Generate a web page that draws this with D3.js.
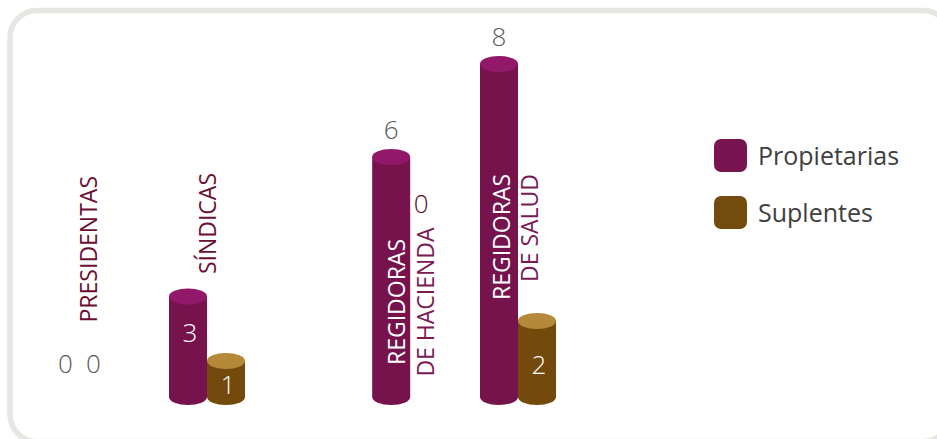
<!DOCTYPE html>
<html>
<head>
<meta charset="utf-8">
<script src="https://cdn.jsdelivr.net/npm/d3@7/dist/d3.min.js"></script>
<style>
  html, body { margin: 0; padding: 0; background: #ffffff; }
  svg { display: block; }
  text { font-family: "Open Sans", "Noto Sans", sans-serif; }
</style>
</head>
<body>
<svg id="chart" width="937" height="439"></svg>
<script>
// ---------------- DATA ----------------
const categories = ["PRESIDENTAS", "SÍNDICAS", "REGIDORAS DE HACIENDA", "REGIDORAS DE SALUD"];
const categoryLines = [["PRESIDENTAS"], ["SÍNDICAS"], ["REGIDORAS", "DE HACIENDA"], ["REGIDORAS", "DE SALUD"]];
const seriesNames = ["Propietarias", "Suplentes"];
const propietarias = [0, 3, 6, 8];
const suplentes = [0, 1, 0, 2];
const primaryAxisTicks = [0, 8];     // Propietarias axis
const secondaryAxisTicks = [0, 2];   // Suplentes axis

// ---------------- LAYOUT / STYLE ----------------
const colors = {
  Propietarias: { body: "#76134c", top: "#92196a", legend: "#78144f" },
  Suplentes:    { body: "#734a0b", top: "#b5883a", legend: "#734b0c" }
};
const slots = [0, 1, 2.96, 4];          // horizontal slot of each category (gap before Hacienda)
const labelMode = {                      // where each value label sits
  Propietarias: ["base", "inside", "above", "above"],
  Suplentes:    ["base", "inside", "float", "inside"]
};
const insideOffset = { Propietarias: -14, Suplentes: 6 };
// category label placement: dx of each line from group centre, anchor and y
const catLabelLayout = [
  { dx: [-15], anchor: "end", y: 176, fill: ["#6a0f33"] },
  { dx: [1], anchor: "end", y: 173, fill: ["#6a0f33"] },
  { dx: [-13, 16], anchor: "middle", y: 302, fill: ["#ffffff", "#7a1a55"] },
  { dx: [-16, 12], anchor: "end", y: 174, fill: ["#ffffff", "#7a1a55"] }
];

const svg = d3.select("#chart");

// frame
svg.append("rect")
  .attr("x", 10).attr("y", 10.5)
  .attr("width", 940).attr("height", 431)
  .attr("rx", 27).attr("ry", 27)
  .attr("fill", "#ffffff")
  .attr("stroke", "#e6e6e2")
  .attr("stroke-width", 5.5);

// scales
const baseY = 397;                       // centre of the cylinders' bottom ellipses
const x = d3.scaleLinear().domain([1, 4]).range([207, 518]);
const inner = d3.scaleBand().domain(seriesNames).range([-38, 38]).padding(0);
const yScale = {
  Propietarias: d3.scaleLinear().domain(d3.extent(primaryAxisTicks)).range([436, 64]),
  Suplentes:    d3.scaleLinear().domain(d3.extent(secondaryAxisTicks)).range([401, 321])
};
const rx = inner.bandwidth() / 2, ry = 8;

const rows = [];
categories.forEach((c, i) => {
  rows.push({ cat: c, i, series: "Propietarias", value: propietarias[i] });
  rows.push({ cat: c, i, series: "Suplentes", value: suplentes[i] });
});
const topY = d => yScale[d.series](d.value);

const g = svg.append("g");

// cylinders
const bars = rows.filter(d => d.value > 0);
const cyl = g.selectAll("g.cyl").data(bars).enter().append("g").attr("class", "cyl");
cyl.append("path")
  .attr("d", d => {
    const x0 = x(slots[d.i]) + inner(d.series);
    const x1 = x0 + inner.bandwidth();
    const yt = topY(d);
    return `M${x0},${yt} L${x0},${baseY} A${rx},${ry} 0 0 0 ${x1},${baseY} L${x1},${yt} Z`;
  })
  .attr("fill", d => colors[d.series].body);
cyl.append("ellipse")
  .attr("cx", d => x(slots[d.i]) + inner(d.series) + rx)
  .attr("cy", d => topY(d))
  .attr("rx", rx).attr("ry", ry)
  .attr("fill", d => colors[d.series].top);

// value labels
function labelPos(d) {
  const mode = labelMode[d.series][d.i];
  const cx = x(slots[d.i]) + inner(d.series) + rx;
  if (mode === "inside") {
    const mid = (topY(d) + baseY) / 2 + insideOffset[d.series];
    return { x: cx + 2, y: mid, dy: "0.36em", fill: "#ffffff" };
  }
  if (mode === "above") return { x: cx, y: topY(d) - 18, dy: "0", fill: "#595959" };
  if (mode === "float") return { x: cx - 8, y: 213, dy: "0", fill: "#5e0a2e" };
  // base (zero with no bar)
  const off = d.series === "Propietarias" ? -19 : -29;
  return { x: cx + off, y: baseY - 24, dy: "0", fill: "#595959" };
}
g.selectAll("text.val").data(rows).enter().append("text")
  .attr("class", "val")
  .each(function (d) {
    const p = labelPos(d);
    d3.select(this).attr("x", p.x).attr("y", p.y).attr("dy", p.dy).attr("fill", p.fill);
  })
  .attr("text-anchor", "middle")
  .attr("font-size", 26)
  .attr("font-weight", 300)
  .text(d => d.value);

// category labels (rotated)
categories.forEach((c, i) => {
  const L = catLabelLayout[i];
  categoryLines[i].forEach((line, k) => {
    g.append("text")
      .attr("transform", `translate(${x(slots[i]) + L.dx[k]},${L.y}) rotate(-90)`)
      .attr("text-anchor", L.anchor)
      .attr("dy", "0.36em")
      .attr("font-size", 23)
      .attr("font-weight", 400)
      .attr("fill", L.fill[k])
      .text(line);
  });
});

// legend
const legend = svg.append("g").attr("transform", "translate(714,139)");
const li = legend.selectAll("g").data(seriesNames).enter().append("g")
  .attr("transform", (d, i) => `translate(0,${i * 57})`);
li.append("rect")
  .attr("width", 33).attr("height", 33).attr("rx", 7).attr("ry", 7)
  .attr("fill", d => colors[d].legend);
li.append("text")
  .attr("x", 44).attr("y", 16.5).attr("dy", "0.36em")
  .attr("font-size", 25)
  .attr("fill", "#404040")
  .text(d => d);
</script>
</body>
</html>
